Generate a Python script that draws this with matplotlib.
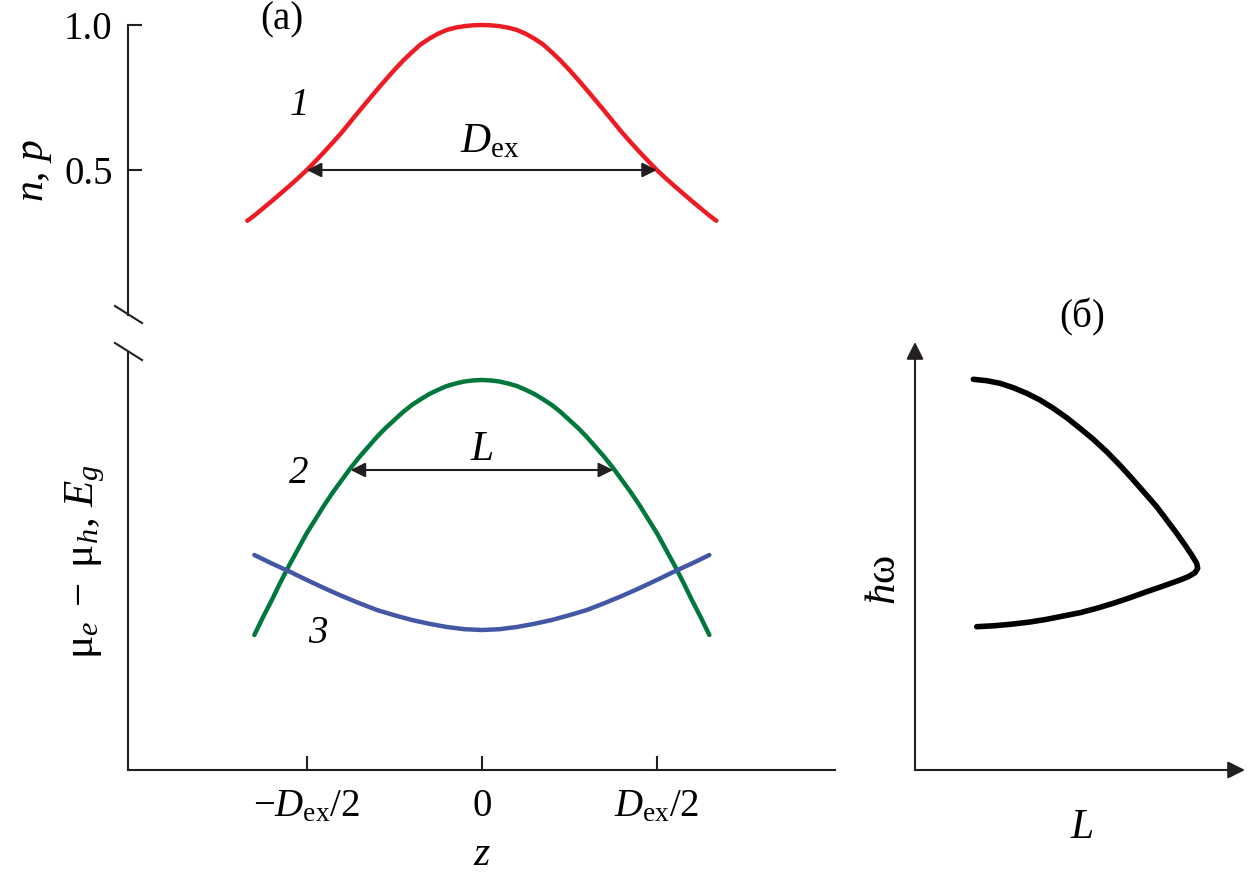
import matplotlib
matplotlib.use('Agg')
import matplotlib.pyplot as plt
from matplotlib.lines import Line2D

# --- Fonts: Times-like serif everywhere ---
plt.rcParams['font.family'] = 'Liberation Serif'
plt.rcParams['mathtext.fontset'] = 'custom'
plt.rcParams['mathtext.rm'] = 'Liberation Serif'
plt.rcParams['mathtext.it'] = 'Liberation Serif:italic'
plt.rcParams['font.size'] = 28

# --- Data (z in units of D_ex) ---
# curve 1: n, p profile (right half, mirrored)
z_half_np = [0.0, 0.025, 0.05, 0.075, 0.10, 0.125, 0.15, 0.175, 0.20, 0.225, 0.25, 0.275, 0.30, 0.325,
             0.35, 0.375, 0.40, 0.425, 0.45, 0.475, 0.50, 0.525, 0.55, 0.575, 0.60, 0.625, 0.65, 0.67]
np_half = [1.000, 0.999, 0.996, 0.991, 0.983, 0.970, 0.953, 0.933, 0.906, 0.877, 0.845, 0.811, 0.776, 0.740,
           0.704, 0.667, 0.630, 0.596, 0.563, 0.531, 0.500, 0.472, 0.445, 0.419, 0.393, 0.368, 0.343, 0.325]

# curve 2 (mu_e - mu_h), arbitrary units
z_half_mu = [0.0, 0.025, 0.05, 0.075, 0.10, 0.125, 0.15, 0.175, 0.20, 0.225, 0.25, 0.275, 0.30, 0.325,
             0.35, 0.375, 0.40, 0.425, 0.45, 0.475, 0.50, 0.525, 0.55, 0.575, 0.60, 0.625, 0.65]
mu_half = [3.900, 3.896, 3.885, 3.865, 3.840, 3.802, 3.760, 3.707, 3.650, 3.580, 3.500, 3.420, 3.330, 3.230,
           3.130, 3.020, 2.900, 2.780, 2.650, 2.510, 2.370, 2.210, 2.050, 1.880, 1.700, 1.530, 1.350]

# curve 3 (E_g), arbitrary units
z_half_eg = [0.0, 0.05, 0.10, 0.15, 0.20, 0.25, 0.30, 0.35, 0.40, 0.45, 0.50, 0.55, 0.60, 0.65]
eg_half = [1.400, 1.408, 1.430, 1.462, 1.500, 1.548, 1.600, 1.668, 1.740, 1.818, 1.900, 1.985, 2.065, 2.150]

# panel (b): photon energy vs L, arbitrary units
L_b = [0.583, 0.717, 0.850, 0.983, 1.117, 1.250, 1.383, 1.517, 1.650, 1.783, 1.917, 2.050, 2.183,
       2.300, 2.417, 2.517, 2.617, 2.700, 2.767, 2.817, 2.827, 2.800, 2.733, 2.650, 2.483, 2.317,
       2.150, 1.983, 1.817, 1.650, 1.483, 1.317, 1.150, 0.983, 0.800, 0.617]
hw_b = [3.907, 3.893, 3.867, 3.823, 3.767, 3.700, 3.617, 3.523, 3.417, 3.307, 3.183, 3.047, 2.900,
        2.767, 2.633, 2.500, 2.367, 2.250, 2.150, 2.067, 2.017, 1.973, 1.933, 1.900, 1.840, 1.783,
        1.723, 1.667, 1.617, 1.573, 1.540, 1.507, 1.480, 1.460, 1.443, 1.433]

x_ticks = [-0.5, 0.0, 0.5]
x_ticklabels = [r'$-D_{\mathrm{ex}}/2$', '0', r'$D_{\mathrm{ex}}/2$']

RED = '#ed1c24'
GREEN = '#00783c'
BLUE = '#4457a5'
INK = '#231f20'
W, H = 1250, 880


def mirror(zs, vals):
    """symmetric profile from its right half"""
    z_full = [-z for z in zs[:0:-1]] + list(zs)
    v_full = list(vals[:0:-1]) + list(vals)
    return z_full, v_full


def px(x, y):
    """pixel position -> figure fraction"""
    return x / W, 1 - y / H


z_np, n_p = mirror(z_half_np, np_half)
z_mu, mu_diff = mirror(z_half_mu, mu_half)
z_eg, e_gap = mirror(z_half_eg, eg_half)

fig = plt.figure(figsize=(12.5, 8.8), dpi=100)

# --- panel (a), upper part: n, p ---
ax_top = fig.add_axes([128 / W, 1 - 315 / H, 707 / W, 290 / H])
ax_top.plot(z_np, n_p, color=RED, lw=3.2, solid_capstyle='round', clip_on=False)
ax_top.set_xlim(-1.011, 1.009)
ax_top.set_ylim(0, 1)
for s in ['top', 'right', 'bottom']:
    ax_top.spines[s].set_visible(False)
ax_top.spines['left'].set_linewidth(1.5)
ax_top.spines['left'].set_color(INK)
ax_top.set_xticks([])
ax_top.set_yticks([0.5, 1.0])
ax_top.set_yticklabels(['0.5', '1.0'])
ax_top.tick_params(axis='y', direction='in', length=10, width=1.5, color=INK, pad=11)
ax_top.patch.set_alpha(0)
ax_top.annotate('', xy=(-0.5, 0.5), xytext=(0.5, 0.5),
                arrowprops=dict(arrowstyle='<|-|>', lw=1.5, color=INK, mutation_scale=22,
                                shrinkA=0, shrinkB=0))

# --- panel (a), lower part: mu_e - mu_h, E_g ---
ax_bot = fig.add_axes([128 / W, 1 - 770 / H, 707 / W, 417 / H])
ax_bot.plot(z_mu, mu_diff, color=GREEN, lw=3.2, solid_capstyle='round')
ax_bot.plot(z_eg, e_gap, color=BLUE, lw=3.2, solid_capstyle='round')
ax_bot.set_xlim(-1.011, 1.009)
ax_bot.set_ylim(0, 4.17)
for s in ['top', 'right']:
    ax_bot.spines[s].set_visible(False)
for s in ['left', 'bottom']:
    ax_bot.spines[s].set_linewidth(1.5)
    ax_bot.spines[s].set_color(INK)
ax_bot.set_yticks([])
ax_bot.set_xticks(x_ticks)
ax_bot.set_xticklabels(x_ticklabels)
ax_bot.tick_params(axis='x', direction='in', length=10, width=1.5, color=INK, pad=13)
ax_bot.patch.set_alpha(0)
ax_bot.annotate('', xy=(-0.375, 3.0), xytext=(0.375, 3.0),
                arrowprops=dict(arrowstyle='<|-|>', lw=1.5, color=INK, mutation_scale=22,
                                shrinkA=0, shrinkB=0))

# axis break marks
for y0 in (306, 343):
    x1, y1 = px(115, y0)
    x2, y2 = px(142, y0 + 17)
    fig.add_artist(Line2D([x1, x2], [y1, y2], color=INK, lw=1.5, transform=fig.transFigure))

# --- panel (b) ---
ax_b = fig.add_axes([915 / W, 1 - 770 / H, 330 / W, 428 / H])
ax_b.plot(L_b, hw_b, color='black', lw=4, solid_capstyle='round', solid_joinstyle='round')
ax_b.set_xlim(0, 3.3)
ax_b.set_ylim(0, 4.28)
ax_b.axis('off')
ax_b.annotate('', xy=(1, 0), xytext=(0, 0), xycoords='axes fraction',
              arrowprops=dict(arrowstyle='-|>', lw=1.5, color=INK, mutation_scale=26,
                              shrinkA=0, shrinkB=0))
ax_b.annotate('', xy=(0, 1), xytext=(0, 0), xycoords='axes fraction',
              arrowprops=dict(arrowstyle='-|>', lw=1.5, color=INK, mutation_scale=26,
                              shrinkA=0, shrinkB=0))

# --- text labels ---
fig.text(*px(282, 20), '(a)', ha='center', va='center')
fig.text(*px(1082, 317), '(б)', ha='center', va='center')
fig.text(*px(299, 105), '1', ha='center', va='center', fontstyle='italic')
fig.text(*px(299, 473), '2', ha='center', va='center', fontstyle='italic')
fig.text(*px(318, 633), '3', ha='center', va='center', fontstyle='italic')
fig.text(*px(490, 142), r'$D_{\mathrm{ex}}$', ha='center', va='center', fontsize=30)
fig.text(*px(482, 450), r'$L$', ha='center', va='center', fontsize=30)
fig.text(*px(482, 855), r'$z$', ha='center', va='center', fontsize=30)
fig.text(*px(35, 170), r'$n$, $p$', ha='center', va='center', rotation=90, fontsize=30)
fig.text(*px(85, 562), r'$\mathrm{μ}_e\;-\;\mathrm{μ}_h$, $E_g$', ha='center', va='center',
         rotation=90, fontsize=31)
fig.text(*px(885, 580), r'$\hbar\mathrm{ω}$', ha='center', va='center', rotation=90, fontsize=31)
fig.text(*px(1082, 828), r'$L$', ha='center', va='center', fontsize=30)

fig.savefig('out.png', dpi=100, facecolor='white')
